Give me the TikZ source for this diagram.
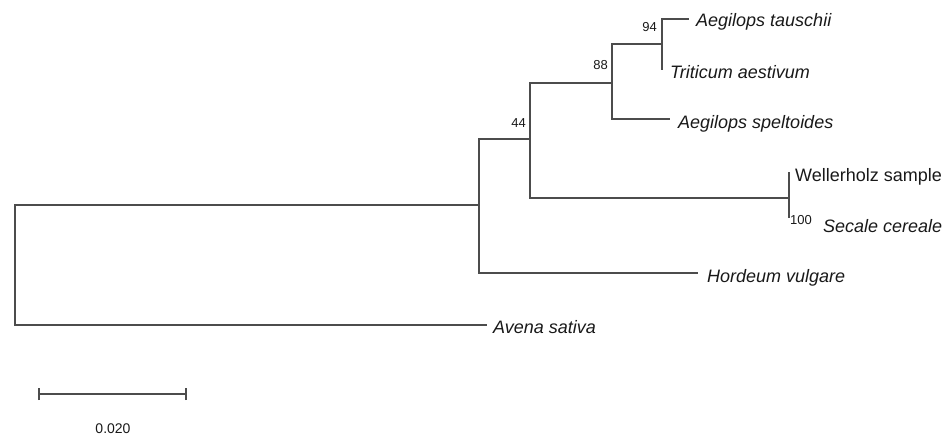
\documentclass[tikz,border=0pt]{standalone}
\usepackage{fontspec}
\setmainfont{Liberation Sans}
\begin{document}
\begin{tikzpicture}[x=1pt,y=-1pt,
  branch/.style={draw=black!70,line width=1.3pt},
  taxon/.style={anchor=base west,inner sep=0pt,font=\fontsize{18}{20}\selectfont\itshape,text=black!90},
  sample/.style={anchor=base west,inner sep=0pt,font=\fontsize{18}{20}\selectfont,text=black!90},
  boot/.style={inner sep=0pt,font=\fontsize{13}{15}\selectfont,text=black!90},
  scalelbl/.style={anchor=base,inner sep=0pt,font=\fontsize{14}{16}\selectfont,text=black!90}]
\useasboundingbox (0,0) rectangle (949,436);
% internal nodes
\coordinate (root) at (15,265);
\coordinate (n1) at (479,205);
\coordinate (n44) at (530,139);
\coordinate (n88) at (612,83);
\coordinate (n94) at (662,44);
\coordinate (n100) at (789,198);
% leaves
\coordinate (tau) at (689,19);
\coordinate (tri) at (662,70);
\coordinate (spe) at (670,119);
\coordinate (wel) at (789,172);
\coordinate (sec) at (789,218);
\coordinate (hor) at (698,273);
\coordinate (ave) at (487,325);
% branches
\draw[branch] (root) |- (n1);
\draw[branch] (root) |- (ave);
\draw[branch] (n1) |- (n44);
\draw[branch] (n1) |- (hor);
\draw[branch] (n44) |- (n88);
\draw[branch] (n44) |- (n100);
\draw[branch] (n88) |- (n94);
\draw[branch] (n88) |- (spe);
\draw[branch] (n94) |- (tau);
\draw[branch] (n94) |- (tri);
\draw[branch] (n100) |- (wel);
\draw[branch] (n100) |- (sec);
% taxon labels
\node[taxon] (ltau) at (696,27) {Aegilops tauschii};
\node[taxon] (ltri) at (670,78) {Triticum aestivum};
\node[taxon] (lspe) at (678,128) {Aegilops speltoides};
\node[sample] (lwel) at (795,181) {Wellerholz sample};
\node[taxon] (lsec) at (823,232) {Secale cereale};
\node[taxon] (lhor) at (707,282) {Hordeum vulgare};
\node[taxon] (lave) at (493,333) {Avena sativa};
% bootstrap values
\node[boot,anchor=base east] (b94) at (657,32) {94};
\node[boot,anchor=base east] (b88) at (608,70) {88};
\node[boot,anchor=base east] (b44) at (526,127) {44};
\node[boot,anchor=base west] (b100) at (790,224) {100};
% scale bar
\coordinate (s1) at (39,394);
\coordinate (s2) at (186,394);
\draw[branch] (s1) -- (s2);
\draw[branch] ([yshift=-6pt]s1) -- ([yshift=6pt]s1);
\draw[branch] ([yshift=-6pt]s2) -- ([yshift=6pt]s2);
\node[scalelbl] (sl) at (113,433) {0.020};
\end{tikzpicture}
\end{document}
